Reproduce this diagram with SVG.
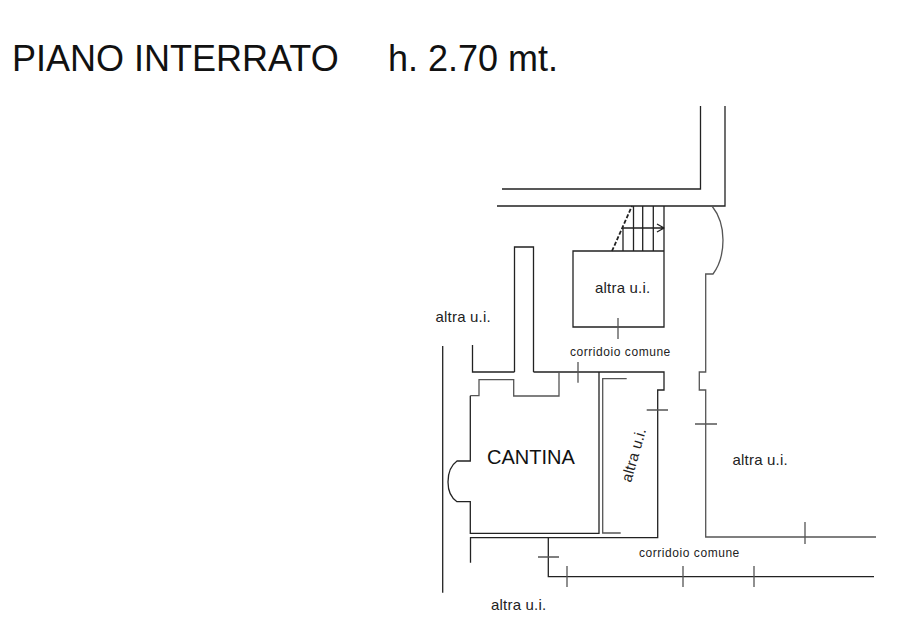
<svg xmlns="http://www.w3.org/2000/svg" width="903" height="638" viewBox="0 0 903 638">
<style>
.l{fill:none;stroke:#222;stroke-width:1.3}
.g{fill:none;stroke:#555;stroke-width:1.3}
text{font-family:"Liberation Sans",Arial,sans-serif;fill:#111}
.t{font-size:36px}
.s{font-size:15px;letter-spacing:.2px;fill:#222}
.c{font-size:12px;letter-spacing:.55px;fill:#222}
</style>
<rect width="903" height="638" fill="#fff"/>
<text class="t" x="12" y="70.500">PIANO INTERRATO</text>
<text class="t" x="388" y="70.500">h. 2.70 mt.</text>
<g id="walls">
<path class="l" d="M700.500 106V189H502M725 106V206H497"/>
<path class="l" d="M514.500 372V247H533.500V372M472.500 345V372H514.500M533.500 372H664V390H657.700V537.700H470.500V562.700"/>
<path class="g" d="M712 206C720 216 723 228 723 240C723 254 719 266 713 274H705.700V372H699.300V390H705.700V537H876"/>
<path class="g" d="M559 372V396H513.700V379.700H479V395.700H470.300"/>
<path class="l" d="M470.300 395.700V461H457C450 466 448 474 448 482C448 490 450 497 457 501.700H470.300V533.300H599V372"/>
<path class="g" d="M626.700 378.700H602.700V533H620.700"/>
<path class="l" d="M442.700 346V592.700"/>
<path class="l" d="M548.300 537.700V576.700H874"/>
</g>
<g id="stairs">
<path class="l" d="M573 251H664V327H573ZM664 206V251M653.300 206V251M642.700 206V251M633.500 206V251M623 228V251M623 228H664M657 224L664 228L657 232"/>
<path class="l" d="M612 251L632 206" stroke-dasharray="4 2" style="stroke-width:1.800"/>
</g>
<g id="ticks">
<path class="g" d="M618 318V339M578 362V382.700M646.700 410H668M695 424H717M538 557H559M567 566V587M683 566V587M754 566V587M805 522V544"/>
</g>
<g id="labels">
<text class="s" x="595" y="292.500">altra u.i.</text>
<text class="s" x="435.500" y="322">altra u.i.</text>
<text class="c" x="570" y="355.500">corridoio comune</text>
<text x="487" y="464" font-size="20">CANTINA</text>
<text class="s" transform="translate(631 483) rotate(-74)">altra u.i.</text>
<text class="s" x="732.500" y="465">altra u.i.</text>
<text class="c" x="639" y="557">corridoio comune</text>
<text class="s" x="491" y="610">altra u.i.</text>
</g>
</svg>
